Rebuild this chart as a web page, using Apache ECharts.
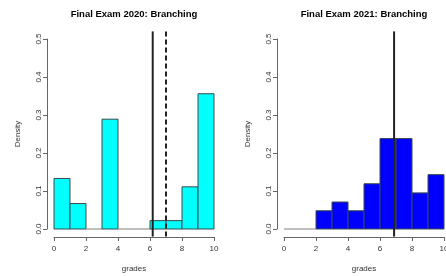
<!DOCTYPE html>
<html>
<head>
<meta charset="utf-8">
<script src="https://cdn.jsdelivr.net/npm/echarts@6/dist/echarts.min.js"></script>
<style>
  html, body { margin: 0; padding: 0; background: #fff; }
  #chart { width: 446px; height: 276px; }
</style>
</head>
<body>
<div id="chart"></div>
<script>
// histogram bins (grades 0..10, width 1) and densities
var breaks = [0, 1, 2, 3, 4, 5, 6, 7, 8, 9, 10];
var dens2020 = [0.133, 0.067, 0, 0.289, 0, 0, 0.022, 0.022, 0.111, 0.356];
var dens2021 = [0, 0, 0.048, 0.071, 0.048, 0.119, 0.238, 0.238, 0.095, 0.143];
// vertical reference lines
var solid2020 = 6.17;
var dashed2020 = 7;
var solid2021 = 6.88;

var font = 'Liberation Sans, Arial, sans-serif';
var axisGray = '#666';

function binData(dens) {
  var out = [];
  for (var i = 0; i < dens.length; i++) {
    out.push([breaks[i], breaks[i + 1], dens[i]]);
  }
  return out;
}

function histSeries(idx, dens, color) {
  return {
    type: 'custom',
    xAxisIndex: idx,
    yAxisIndex: idx,
    clip: false,
    data: binData(dens),
    encode: { x: [0, 1], y: 2 },
    renderItem: function (params, api) {
      var a = api.coord([api.value(0), api.value(2)]);
      var b = api.coord([api.value(1), 0]);
      if (api.value(2) === 0) {
        return {
          type: 'line',
          shape: { x1: a[0], y1: b[1], x2: b[0], y2: b[1] },
          style: { stroke: '#aaa', lineWidth: 1.5 }
        };
      }
      return {
        type: 'rect',
        shape: { x: a[0], y: a[1], width: b[0] - a[0], height: b[1] - a[1] },
        style: { fill: color, stroke: '#3a4a4a', lineWidth: 1 }
      };
    }
  };
}

// abline spans the whole plot region (axis range widened by 4% like R)
function vlineSeries(idx, v, dashed) {
  var lo = -0.02, hi = 0.52;
  return {
    type: 'custom',
    xAxisIndex: idx,
    yAxisIndex: idx,
    clip: false,
    z: 5,
    data: [[v]],
    renderItem: function (params, api) {
      var p1 = api.coord([api.value(0), lo]);
      var p2 = api.coord([api.value(0), hi]);
      return {
        type: 'line',
        shape: { x1: p1[0], y1: p1[1], x2: p2[0], y2: p2[1] },
        style: { stroke: '#222', lineWidth: 2, lineDash: dashed ? [5, 3] : null }
      };
    }
  };
}

function xAxisCfg(idx) {
  return {
    gridIndex: idx, type: 'value', min: 0, max: 10, interval: 2,
    position: 'bottom', offset: 8,
    name: 'grades', nameLocation: 'middle', nameGap: 28,
    nameTextStyle: { fontFamily: font, fontSize: 8, color: '#333' },
    axisLine: { show: true, onZero: false, lineStyle: { color: axisGray, width: 1 } },
    axisTick: { show: true, length: 4, lineStyle: { color: axisGray } },
    axisLabel: { fontFamily: font, fontSize: 8, color: '#333', margin: 8 },
    splitLine: { show: false }
  };
}

function yAxisCfg(idx) {
  return {
    gridIndex: idx, type: 'value', min: 0, max: 0.5, interval: 0.1,
    position: 'left', offset: 7,
    name: 'Density', nameLocation: 'middle', nameGap: 25,
    nameTextStyle: { fontFamily: font, fontSize: 8, color: '#333' },
    axisLine: { show: true, onZero: false, lineStyle: { color: axisGray, width: 1 } },
    axisTick: { show: true, length: 4, lineStyle: { color: axisGray } },
    axisLabel: { fontFamily: font, fontSize: 8, color: '#333', rotate: 90, margin: 4,
      formatter: function (v) { return v.toFixed(1); } },
    splitLine: { show: false }
  };
}

var myChart = echarts.init(document.getElementById('chart'), null, { renderer: 'canvas' });
myChart.setOption({
  backgroundColor: '#fff',
  animation: false,
  title: [
    { text: 'Final Exam 2020: Branching', left: 134, top: 9, padding: 0, textAlign: 'center',
      textStyle: { fontFamily: font, fontSize: 9.5, fontWeight: 'bold', color: '#000' } },
    { text: 'Final Exam 2021: Branching', left: 364, top: 9, padding: 0, textAlign: 'center',
      textStyle: { fontFamily: font, fontSize: 9.5, fontWeight: 'bold', color: '#000' } }
  ],
  grid: [
    { left: 54, top: 39, width: 160, height: 190, outerBoundsMode: 'none' },
    { left: 284, top: 39, width: 160, height: 190, outerBoundsMode: 'none' }
  ],
  xAxis: [xAxisCfg(0), xAxisCfg(1)],
  yAxis: [yAxisCfg(0), yAxisCfg(1)],
  series: [
    histSeries(0, dens2020, '#00ffff'),
    vlineSeries(0, solid2020, false),
    vlineSeries(0, dashed2020, true),
    histSeries(1, dens2021, '#0000ff'),
    vlineSeries(1, solid2021, false)
  ]
});
</script>
</body>
</html>
